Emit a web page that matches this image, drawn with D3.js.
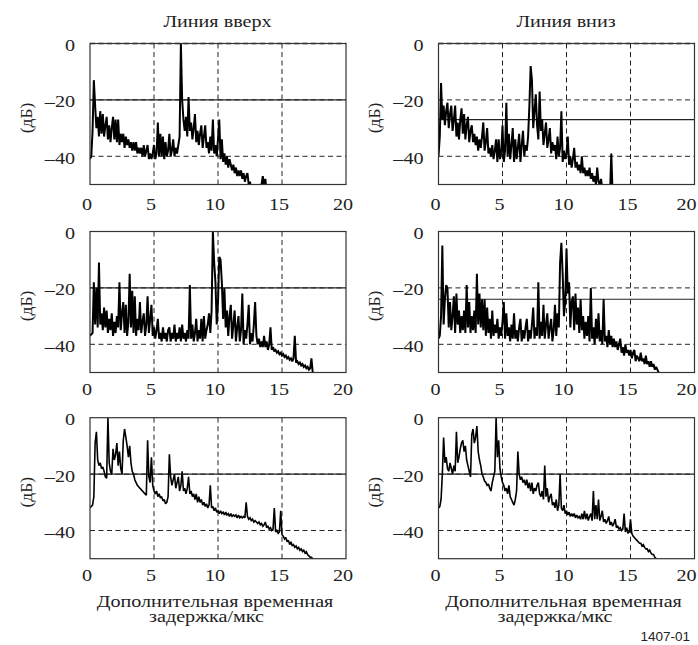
<!DOCTYPE html>
<html>
<head>
<meta charset="utf-8">
<script src="https://cdn.jsdelivr.net/npm/d3@7"></script>
<style>
  body { margin: 0; background: #fff; }
  svg text { font-family: "Liberation Serif", "Tinos", "Nimbus Roman", "Times New Roman", serif; fill: #222; }
</style>
</head>
<body>
<svg id="chart" width="698" height="645"></svg>
<script>
// Excess delay profiles, one sample every 0.1 us (dB)
const STEP = 0.1;
const xTicks = [0, 5, 10, 15, 20];
const yTicks = [0, -20, -40];
const xGrid = [5, 10, 15];
const colTitles = ['Линия вверх', 'Линия вниз'];
const xTitle = ['Дополнительная временная', 'задержка/мкс'];
const yTitle = '(дБ)';
const figId = '1407-01';
// threshold level per panel (row by row, left then right)
const thresholds = [-20, -27, -20, -24, -20, -20];

const upTop = [
  -41,-40,-31,-13,-22,-30,-26,-33,-24,-32,
  -25,-33,-29,-26,-34,-29,-35,-30,-26,-34,
  -27,-35,-27,-36,-32,-35,-32,-37,-33,-36,
  -34,-37,-35,-38,-35,-38,-35,-39,-37,-39,
  -37,-40,-36,-40,-38,-36,-41,-39,-41,-39,
  -36,-41,-39,-28,-40,-32,-40,-33,-41,-35,
  -40,-38,-32,-40,-38,-34,-40,-37,-39,-36,
  -33,0,-20,-27,-31,-26,-33,-19,-31,-28,
  -34,-30,-25,-35,-31,-36,-32,-29,-37,-33,
  -29,-37,-35,-39,-33,-38,-27,-39,-36,-40,
  -34,-27,-41,-34,-42,-39,-43,-40,-44,-41,
  -43,-45,-43,-46,-44,-47,-45,-47,-45,-48,
  -46,-49,-47,-46,-50,-49,-52,-53,-53,-53,
  -53,-53,-53,-53,-50,-47,-51,-48,-53
];
const downTop = [
  -40,-33,-14,-27,-22,-29,-24,-21,-30,-25,
  -22,-31,-27,-22,-33,-28,-34,-27,-23,-32,
  -25,-34,-29,-26,-35,-31,-29,-35,-32,-36,
  -33,-38,-34,-37,-33,-28,-38,-35,-30,-39,
  -37,-40,-36,-41,-38,-34,-42,-34,-41,-39,
  -29,-42,-38,-21,-40,-32,-41,-36,-30,-42,
  -34,-41,-37,-32,-42,-36,-31,-40,-36,-38,
  -33,-22,-8,-13,-30,-24,-18,-29,-34,-17,
  -31,-27,-36,-32,-28,-37,-34,-30,-39,-35,
  -38,-36,-41,-33,-40,-37,-24,-42,-38,-41,
  -39,-33,-43,-40,-44,-41,-37,-44,-42,-45,
  -43,-46,-40,-46,-44,-47,-45,-47,-44,-48,
  -46,-49,-47,-50,-44,-49,-50,-48,-52,-53,
  -53,-53,-53,-53,-53,-39,-53,-53
];
const upMid = [
  -37,-36.5,-36,-18,-33,-20,-34,-11,-33,-29,
  -35,-27,-34,-28,-36,-31,-35,-29,-37,-32,
  -36,-30,-34,-18,-35,-29,-25,-36,-26,-37,
  -32,-15,-34,-21,-36,-23,-37,-31,-35,-25,
  -36,-32,-29,-37,-33,-23,-36,-31,-26,-37,
  -34,-38,-35,-31,-38,-36,-39,-34,-38,-36,
  -39,-35,-34,-39,-36,-38,-33,-39,-36,-38,
  -34,-39,-33,-38,-36,-39,-35,-38,-19,-38,
  -33,-39,-36,-31,-39,-35,-38,-31,-39,-30,
  -38,-35,-33,-29,-36,-28,0,-11,-18,-33,
  -25,-9,-10,-18,-31,-20,-34,-28,-37,-30,
  -26,-38,-33,-28,-39,-34,-30,-39,-35,-22,
  -40,-35,-38,-33,-26,-40,-36,-39,-33,-25,
  -37,-40,-38,-41,-39,-41,-37,-41,-39,-42,
  -40,-34,-42,-41,-42.5,-42,-43,-42.5,-43.5,-43,
  -44,-43.5,-44.5,-44,-45,-44.5,-45.5,-45,-46,-45,
  -37,-46.5,-46,-47,-46.5,-47.5,-47,-48,-47.5,-48.5,
  -48,-49,-48.5,-45,-50,-52
];
const downMid = [
  -38,-37,-30,-5,-33,-24,-19,-20,-34,-25,
  -35,-30,-23,-36,-22,-33,-28,-36,-30,-35,
  -28,-36,-19,-34,-25,-36,-30,-35,-28,-36,
  -15,-33,-22,-34,-24,-35,-24,-37,-27,-36,
  -31,-38,-28,-37,-33,-36,-31,-38,-34,-37,
  -32,-25,-38,-29,-37,-34,-39,-33,-38,-29,
  -38,-35,-39,-34,-31,-39,-35,-38,-34,-31,
  -39,-35,-38,-33,-27,-38,-34,-37,-18,-38,
  -32,-37,-26,-38,-33,-29,-38,-34,-31,-39,
  -35,-26,-37,-29,-34,-11,-4,-15,-30,-25,
  -6,-22,-18,-34,-25,-23,-35,-22,-33,-27,
  -36,-24,-35,-30,-38,-32,-37,-30,-39,-20,
  -38,-34,-40,-31,-38,-29,-39,-35,-40,-24,
  -39,-37,-41,-35,-40,-37,-41,-38,-41,-39,
  -42,-40,-38,-43,-41,-44,-40,-43,-42,-44,
  -42,-45,-43,-42,-46,-44,-45,-46,-43,-46,
  -45,-47,-44,-47,-46,-48,-46,-48,-47,-49,
  -48,-49,-50,-51,-53
];
const upBot = [
  -32,-31.5,-31,-28,-9,-5,-15,-17,-16,-18,
  -17.5,-19,-21,-21.5,0,-16,-19,-20,-11,-15,
  -13,-9,-17,-12,-18,-20,-8,-4,-7,-10,
  -14,-10,-16,-19,-20,-22,-23,-24,-24.5,-25,
  -25.5,-26,-26.5,-27,-27.5,-8,-21,-23,-14,-24,
  -26,-27,-26,-28,-27,-28.5,-28,-29.5,-29,-30.5,
  -30,-28,-13,-21,-24,-22,-20,-25,-23,-21,
  -26,-24,-19,-26,-25,-27,-25,-21,-27,-26,
  -28,-27,-29,-27,-30,-28,-30,-29,-31,-30,
  -31.5,-30.5,-32,-31,-24,-32,-31.5,-33,-32,-33.5,
  -33,-34,-33,-34,-33.5,-34.5,-33.5,-34.5,-34,-35,
  -34,-35,-34.5,-35,-34.5,-35.5,-34.5,-35.5,-35,-35.5,
  -35,-35.5,-30,-35,-36,-35.5,-36.5,-36,-37,-36.5,
  -37,-37.5,-37,-38,-37.5,-38.5,-38,-37,-39,-38.5,
  -39.5,-39,-40,-39.5,-32,-40.5,-40,-41,-40.5,-33,
  -41.5,-42,-43,-42.5,-44,-43.5,-45,-44,-45.5,-45,
  -46,-45.5,-46.5,-46,-47,-46.5,-47.5,-47,-48,-47.5,
  -48.5,-49,-49.5,-49.5,-50,-51
];
const downBot = [
  -32,-31.5,-29,-20,-7,-16,-14,-18,-19,-16,
  -18,-20,-17,-19,-5,-16,-14,-11,-9,-8,
  -12,-10,-15,-17,-19,-21,-6,-4,-9,-7,
  -3,-12,-15,-17,-20,-21,-22.5,-23,-24,-23.5,
  -25,-26,-23,-21,-19,0,-14,-8,-18,-21,
  -23,-24,-26,-25,-27,-24,-28,-29,-30,-31,
  -29,-26,-12,-20,-22,-21,-23,-22,-24,-22,
  -25,-23,-26,-23,-27,-25,-26,-24,-23,-27,
  -28,-26,-29,-17,-28,-25,-30,-28,-27,-31,
  -30,-32,-29,-33,-31,-20,-32,-33,-31,-34,
  -33,-34.5,-33.5,-35,-34,-35,-34,-35.5,-34.5,-35.5,
  -35,-36,-34,-36,-33,-36,-34,-36.5,-35,-34,
  -36.5,-26,-36,-31,-36,-29,-36.5,-35,-33,-37,
  -36,-37.5,-36.5,-35,-38,-37,-38.5,-37.5,-36,-39,
  -38.5,-39.5,-39,-40,-39.5,-34,-40.5,-39,-41,-40.5,
  -36,-41,-42,-42.5,-43,-43.5,-44,-44.5,-44.5,-45.5,
  -45,-46,-46.5,-46.5,-47.5,-47,-48,-48.5,-48.5,-49.5,
  -50,-52
];

const panels = [
  { data: upTop, row: 0, col: 0 }, { data: downTop, row: 0, col: 1 },
  { data: upMid, row: 1, col: 0 }, { data: downMid, row: 1, col: 1 },
  { data: upBot, row: 2, col: 0 }, { data: downBot, row: 2, col: 1 }
];

const W = 256, H = 141;
const colX = [90, 438.5];
const rowY = [43.5, 231.5, 417.7];
const SX = 1.15; // the scanned lettering is a little wider than the font
const FS = 17.5;

const svg = d3.select('#chart');
const x = d3.scaleLinear().domain([0, 20]).range([0, W]);
const y = d3.scaleLinear().domain([-50, 0]).range([H, 0]);
const line = d3.line().x((d, i) => x(i * STEP)).y(d => y(d));

panels.forEach((p, k) => {
  const g = svg.append('g').attr('transform', `translate(${colX[p.col]},${rowY[p.row]})`);

  g.append('clipPath').attr('id', 'clip' + k)
    .append('rect').attr('width', W).attr('height', H);

  // dashed grid
  g.selectAll('.vgrid').data(xGrid).join('line')
    .attr('x1', d => x(d)).attr('x2', d => x(d))
    .attr('y1', 0).attr('y2', H)
    .attr('stroke', '#222').attr('stroke-width', 1)
    .attr('stroke-dasharray', '5,3.5');

  const hLevels = p.row === 0 ? [0, -20, -40] : [-20, -40];
  g.selectAll('.hgrid').data(hLevels).join('line')
    .attr('x1', 0).attr('x2', W)
    .attr('y1', d => y(d)).attr('y2', d => y(d))
    .attr('stroke', '#222').attr('stroke-width', d => d === 0 ? 1.6 : 1)
    .attr('stroke-dasharray', '5,3.5');

  // threshold
  g.append('line')
    .attr('x1', 0).attr('x2', W)
    .attr('y1', y(thresholds[k])).attr('y2', y(thresholds[k]))
    .attr('stroke', '#222').attr('stroke-width', 1.1);

  // profile
  g.append('path').datum(p.data)
    .attr('clip-path', `url(#clip${k})`)
    .attr('d', line)
    .attr('fill', 'none')
    .attr('stroke', '#000')
    .attr('stroke-width', p.row === 2 ? 1.6 : 2)
    .attr('stroke-linejoin', 'miter')
    .attr('stroke-miterlimit', 2);

  // frame
  g.append('rect').attr('width', W).attr('height', H)
    .attr('fill', 'none').attr('stroke', '#333').attr('stroke-width', 1.2);

  // tick labels
  const xOff = p.row === 0 ? 25 : 22;
  const maxX = 697 - colX[p.col] - 10.5;
  g.selectAll('.xt').data(xTicks).join('text')
    .attr('transform', d => `translate(${Math.min(x(d) - 3, maxX)},${H + xOff}) scale(${SX},1)`)
    .attr('text-anchor', 'middle')
    .attr('font-size', FS)
    .text(d => d);

  g.selectAll('.yt').data(yTicks).join('text')
    .attr('transform', d => `translate(-15,${y(d) + 7.5}) scale(${SX},1)`)
    .attr('text-anchor', 'end')
    .attr('font-size', FS)
    .text(d => d < 0 ? '\u2013' + Math.abs(d) : d);

  g.append('text')
    .attr('transform', `translate(${p.col === 0 ? -64 : -64.5},${H / 2 + 4}) rotate(-90)`)
    .attr('text-anchor', 'middle')
    .attr('dy', '0.35em')
    .attr('font-size', FS)
    .text(yTitle);
});

// column titles
colTitles.forEach((t, c) => {
  svg.append('text')
    .attr('transform', `translate(${colX[c] + W / 2 - 0.5},27) scale(${SX},1)`)
    .attr('text-anchor', 'middle')
    .attr('font-size', FS)
    .text(t);
});

// x axis title under each column
[0, 1].forEach(c => {
  const cx = colX[c] + 125;
  svg.append('text')
    .attr('transform', `translate(${cx},606.5) scale(${SX},1)`)
    .attr('text-anchor', 'middle')
    .attr('font-size', FS)
    .text(xTitle[0]);
  svg.append('text')
    .attr('transform', `translate(${cx - 8.5},622) scale(${SX},1)`)
    .attr('text-anchor', 'middle')
    .attr('font-size', FS)
    .text(xTitle[1]);
});

svg.append('text')
  .attr('x', 690).attr('y', 641)
  .attr('text-anchor', 'end')
  .attr('font-size', 13.5)
  .style('font-family', '"Liberation Sans", Arial, sans-serif')
  .text(figId);
</script>
</body>
</html>
